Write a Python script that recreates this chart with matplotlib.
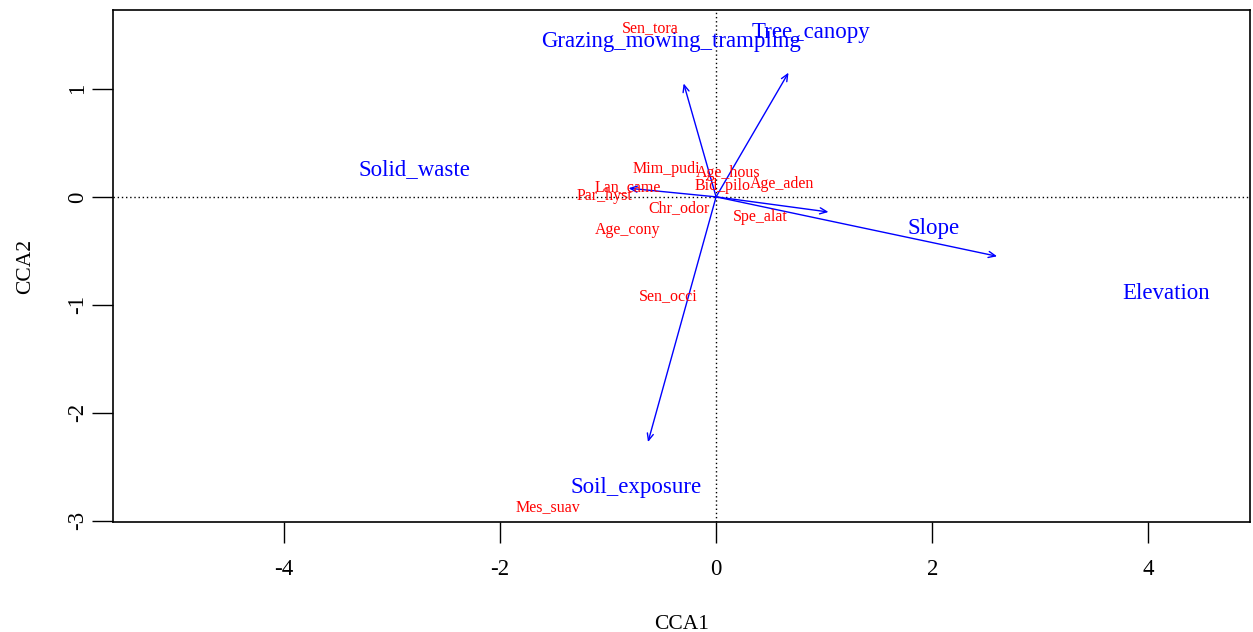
import matplotlib
matplotlib.use("Agg")
import matplotlib.pyplot as plt

# Biplot arrows (environmental variables)
env_names = ["Grazing_mowing_trampling", "Tree_canopy", "Solid_waste", "Slope", "Elevation", "Soil_exposure"]
env_tip_x = [-0.30, 0.67, -0.81, 1.04, 2.60, -0.63]
env_tip_y = [1.05, 1.15, 0.08, -0.14, -0.55, -2.27]
env_lab_x = [-0.42, 0.88, -2.79, 2.01, 4.16, -0.74]
env_lab_y = [1.44, 1.52, 0.25, -0.29, -0.89, -2.69]

# Species scores
sp_names = ["Sen_tora", "Mim_pudi", "Age_hous", "Lan_came", "Bid_pilo", "Age_aden",
            "Par_hyst", "Chr_odor", "Spe_alat", "Age_cony", "Sen_occi", "Mes_suav"]
sp_x = [-0.61, -0.46, 0.11, -0.82, 0.06, 0.61, -1.03, -0.34, 0.41, -0.82, -0.44, -1.56]
sp_y = [1.56, 0.26, 0.22, 0.09, 0.10, 0.12, 0.01, -0.10, -0.19, -0.31, -0.92, -2.87]

x_ticks = [-4, -2, 0, 2, 4]
y_ticks = [-3, -2, -1, 0, 1]

plt.rcParams['font.family'] = ['Liberation Serif', 'DejaVu Serif']

fig = plt.figure(figsize=(12.53, 6.32), dpi=100)
ax = fig.add_axes([113/1253, 1 - 522/632, 1137/1253, 512/632])
ax.set_xlim(-5.58, 4.94)
ax.set_ylim(-3.01, 1.73)

ax.axhline(0, color='black', lw=1, ls=(0, (1, 2)))
ax.axvline(0, color='black', lw=1, ls=(0, (1, 2)))

for tx, ty in zip(env_tip_x, env_tip_y):
    ax.annotate("", xy=(tx, ty), xytext=(0, 0),
                arrowprops=dict(arrowstyle="->,head_length=0.5,head_width=0.22",
                                color="blue", lw=1, shrinkA=0, shrinkB=0))

for name, lx, ly in zip(env_names, env_lab_x, env_lab_y):
    ax.text(lx, ly, name, color="blue", fontsize=16.5, ha="center", va="center")

for name, x, y in zip(sp_names, sp_x, sp_y):
    ax.text(x, y, name, color="red", fontsize=11.5, ha="center", va="center")

ax.set_xticks(x_ticks)
ax.set_yticks(y_ticks)
ax.set_xticklabels([str(v) for v in x_ticks])
ax.set_yticklabels([str(v) for v in y_ticks], rotation=90, va="center")
ax.tick_params(axis='both', length=15, width=1, labelsize=16.5, direction='out')
ax.tick_params(axis='x', pad=11.5)
ax.tick_params(axis='y', pad=3)
for s in ax.spines.values():
    s.set_linewidth(1.2)
ax.set_xlabel("CCA1", fontsize=15.5, labelpad=25)
ax.set_ylabel("CCA2", fontsize=15.5, labelpad=23)

fig.savefig("out.png", dpi=100)
